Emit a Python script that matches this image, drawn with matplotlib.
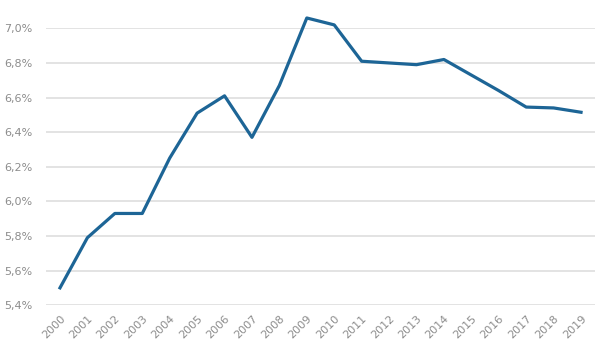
import matplotlib

matplotlib.use("Agg")

import matplotlib.pyplot as plt  # noqa: E402
import numpy as np  # noqa: E402
from matplotlib.ticker import FuncFormatter  # noqa: E402

years = [str(y) for y in range(2000, 2020)]
values = [5.50, 5.79, 5.93, 5.93, 6.25, 6.51, 6.61, 6.37, 6.67, 7.06,
          7.02, 6.81, 6.80, 6.79, 6.82, 6.73, 6.64, 6.545, 6.54, 6.515]
y_ticks = [5.4, 5.6, 5.8, 6.0, 6.2, 6.4, 6.6, 6.8, 7.0]

_LINE_COLOR = "#1d6596"
_GRID_COLOR = "#dedede"
_TEXT_COLOR = "#8c8c8c"

fig = plt.figure(figsize=(6.09, 3.59), dpi=100)
ax = fig.add_axes([0.076, 0.150, 0.9006, 0.771])

x = np.arange(len(years))
ax.plot(x, values, color=_LINE_COLOR, lw=2.3, solid_joinstyle="round",
        clip_on=False, zorder=3)

ax.set_xlim(-0.5, len(years) - 0.5)
ax.set_ylim(5.4, 7.0)
ax.set_yticks(y_ticks)
ax.yaxis.set_major_formatter(
    FuncFormatter(lambda v, _: f"{v:.1f}%".replace(".", ",")))
ax.set_xticks(x)
ax.set_xticklabels(years, rotation=45, ha="right", rotation_mode="anchor")

ax.grid(True, axis="y", color=_GRID_COLOR, lw=1.2)
ax.set_axisbelow(True)
for side in ("top", "right", "left", "bottom"):
    ax.spines[side].set_visible(False)
ax.tick_params(axis="both", length=0, colors=_TEXT_COLOR, labelsize=8)
ax.tick_params(axis="y", pad=10)
ax.tick_params(axis="x", pad=6)

fig.savefig("out.png")
